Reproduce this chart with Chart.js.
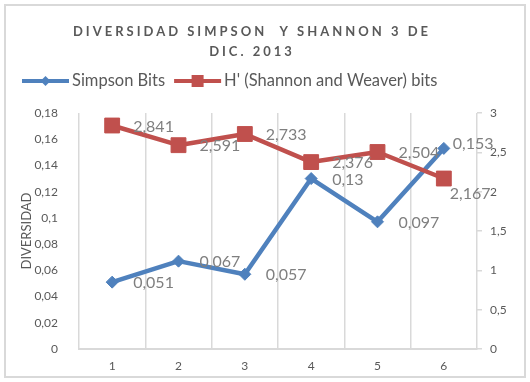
<!DOCTYPE html>
<html>
<head>
<meta charset="utf-8">
<script src="https://cdn.jsdelivr.net/npm/chart.js@4.4.0/dist/chart.umd.min.js"></script>
<style>
html, body { margin: 0; padding: 0; background: #fff; }
</style>
</head>
<body>
<canvas id="diversidadChart" width="530" height="382"></canvas>
<script>
// Datos
const categories = ['1', '2', '3', '4', '5', '6'];
const simpsonBits = [0.051, 0.067, 0.057, 0.13, 0.097, 0.153];
const shannonBits = [2.841, 2.591, 2.733, 2.376, 2.504, 2.167];
const seriesNames = ['Simpson Bits', "H' (Shannon and Weaver) bits"];
const titleLines = ['DIVERSIDAD SIMPSON  Y SHANNON 3 DE', 'DIC. 2013'];
const leftAxis = { min: 0, max: 0.18, step: 0.02 };
const rightAxis = { min: 0, max: 3, step: 0.5 };

const FONT = 'Lato, "Open Sans", sans-serif';
const TXT = '#595959';
const GRID = '#d9d9d9';

function comma(v) {
    return String(Math.round(v * 10000) / 10000).replace('.', ',');
}

// marco, titulo y leyenda
const frameAndHeader = {
    id: 'frameAndHeader',
    beforeDraw(chart) {
        const ctx = chart.ctx;
        ctx.save();
        ctx.fillStyle = '#fff';
        ctx.fillRect(0, 0, chart.width, chart.height);
        ctx.strokeStyle = GRID;
        ctx.lineWidth = 2;
        ctx.strokeRect(5, 5, 520, 372);

        ctx.fillStyle = TXT;
        ctx.font = 'bold 13px ' + FONT;
        ctx.textAlign = 'center';
        ctx.textBaseline = 'middle';
        ctx.letterSpacing = '3px';
        titleLines.forEach((line, i) => ctx.fillText(line, 252, 32 + i * 20));
        ctx.letterSpacing = '0px';

        // leyenda
        let x = 22;
        const y = 81;
        ctx.font = '16.5px ' + FONT;
        ctx.textAlign = 'left';
        chart.data.datasets.forEach((ds, i) => {
            ctx.strokeStyle = ds.borderColor;
            ctx.lineWidth = 4;
            ctx.beginPath();
            ctx.moveTo(x, y);
            ctx.lineTo(x + 47, y);
            ctx.stroke();
            ctx.fillStyle = ds.borderColor;
            const cx = x + 23.5;
            ctx.beginPath();
            if (ds.pointStyle === 'rectRot') {
                ctx.moveTo(cx - 5, y);
                ctx.lineTo(cx, y - 5);
                ctx.lineTo(cx + 5, y);
                ctx.lineTo(cx, y + 5);
                ctx.closePath();
            } else {
                ctx.rect(cx - 6, y - 6, 12, 12);
            }
            ctx.fill();
            ctx.fillStyle = TXT;
            ctx.fillText(seriesNames[i], x + 50, y);
            x += 50 + ctx.measureText(seriesNames[i]).width + 9;
        });
        ctx.restore();
    }
};

// etiquetas de datos a la derecha de cada punto (las del ultimo punto van corridas)
const labelShift = [{ 5: [-12, -6] }, { 5: [-15, 14] }];
const pointLabels = {
    id: 'pointLabels',
    afterDatasetsDraw(chart) {
        const ctx = chart.ctx;
        ctx.save();
        ctx.font = '16px ' + FONT;
        ctx.fillStyle = '#7f7f7f';
        ctx.textAlign = 'left';
        ctx.textBaseline = 'middle';
        chart.data.datasets.forEach((ds, i) => {
            chart.getDatasetMeta(i).data.forEach((pt, j) => {
                const d = labelShift[i][j] || [0, 0];
                ctx.fillText(comma(ds.data[j]), pt.x + 21 + d[0], pt.y + 1 + d[1]);
            });
        });
        ctx.restore();
    }
};

new Chart(document.getElementById('diversidadChart'), {
    type: 'line',
    data: {
        labels: categories,
        datasets: [{
            label: seriesNames[0],
            data: simpsonBits,
            yAxisID: 'y',
            order: 1,
            borderColor: '#4f81bd',
            backgroundColor: '#4f81bd',
            borderWidth: 4.5,
            borderJoinStyle: 'round',
            pointStyle: 'rectRot',
            pointRadius: 6,
            pointBorderWidth: 1,
            pointBackgroundColor: '#4f81bd',
            pointBorderColor: '#4f81bd'
        }, {
            label: seriesNames[1],
            data: shannonBits,
            yAxisID: 'y1',
            order: 0,
            borderColor: '#c0504d',
            backgroundColor: '#c0504d',
            borderWidth: 4.5,
            borderJoinStyle: 'round',
            pointStyle: 'rect',
            pointRadius: 10.5,
            pointBorderWidth: 1,
            pointBackgroundColor: '#c0504d',
            pointBorderColor: '#c0504d'
        }]
    },
    options: {
        responsive: false,
        animation: false,
        layout: { padding: { top: 113, left: 12, right: 13, bottom: 9 } },
        plugins: {
            legend: { display: false },
            title: { display: false },
            tooltip: { enabled: false }
        },
        scales: {
            x: {
                offset: true,
                grid: { offset: true, color: GRID, lineWidth: 1.5, drawTicks: false },
                border: { color: GRID, width: 2 },
                ticks: { color: TXT, font: { family: FONT, size: 12 }, padding: 10 },
                afterFit: s => { s.height = 24; }
            },
            y: {
                position: 'left',
                min: leftAxis.min,
                max: leftAxis.max,
                grid: { display: false },
                border: { display: false },
                ticks: {
                    stepSize: leftAxis.step,
                    color: TXT,
                    padding: 13,
                    font: { family: FONT, size: 12 },
                    callback: v => comma(v)
                },
                title: {
                    display: true,
                    text: 'DIVERSIDAD',
                    color: TXT,
                    font: { family: FONT, size: 13 },
                    padding: { top: 7, bottom: 0 }
                },
                afterFit: s => { s.width = 67; }
            },
            y1: {
                position: 'right',
                min: rightAxis.min,
                max: rightAxis.max,
                grid: { drawOnChartArea: false, drawTicks: true, tickLength: 5, color: GRID, lineWidth: 1.5 },
                border: { display: false },
                ticks: {
                    stepSize: rightAxis.step,
                    color: TXT,
                    padding: 8,
                    font: { family: FONT, size: 12 },
                    callback: v => comma(v)
                },
                afterFit: s => { s.width = 40; }
            }
        }
    },
    plugins: [frameAndHeader, pointLabels]
});
</script>
</body>
</html>
